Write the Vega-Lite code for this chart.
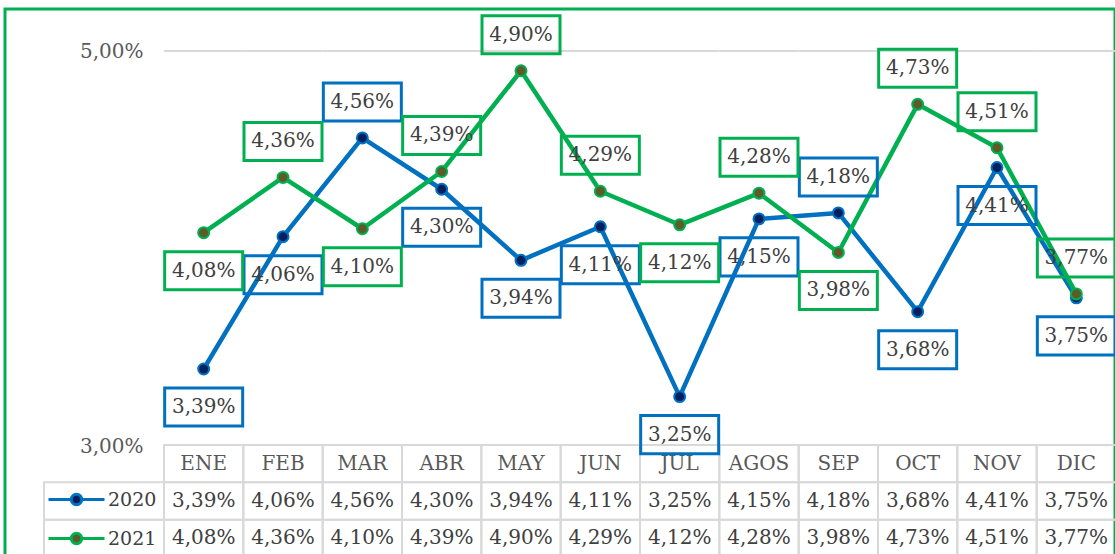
{
  "$schema": "https://vega.github.io/schema/vega-lite/v6.json",
  "width": 1110,
  "height": 545,
  "autosize": {"type": "none"},
  "padding": {"left": 5, "top": 9, "right": 0, "bottom": 0},
  "background": "white",
  "config": {
    "font": "DejaVu Serif",
    "view": {"stroke": "#00B050", "strokeWidth": 3, "strokeDash": [1655, 1110, 545]},
    "legend": {
      "symbolSize": 256, "symbolStrokeWidth": 3, "symbolOpacity": 1,
      "labelFont": "DejaVu Serif", "labelFontSize": 19, "labelColor": "#404040",
      "labelOffset": 22, "rowPadding": 16, "padding": 0
    }
  },
  "datasets": {
    "main": [
      {"month": "ENE", "series": "2020", "value": 0.0339, "pos": "below"},
      {"month": "FEB", "series": "2020", "value": 0.0406, "pos": "below"},
      {"month": "MAR", "series": "2020", "value": 0.0456, "pos": "above"},
      {"month": "ABR", "series": "2020", "value": 0.0430, "pos": "below"},
      {"month": "MAY", "series": "2020", "value": 0.0394, "pos": "below"},
      {"month": "JUN", "series": "2020", "value": 0.0411, "pos": "below"},
      {"month": "JUL", "series": "2020", "value": 0.0325, "pos": "below"},
      {"month": "AGOS", "series": "2020", "value": 0.0415, "pos": "below"},
      {"month": "SEP", "series": "2020", "value": 0.0418, "pos": "above"},
      {"month": "OCT", "series": "2020", "value": 0.0368, "pos": "below"},
      {"month": "NOV", "series": "2020", "value": 0.0441, "pos": "below"},
      {"month": "DIC", "series": "2020", "value": 0.0375, "pos": "below"},
      {"month": "ENE", "series": "2021", "value": 0.0408, "pos": "below"},
      {"month": "FEB", "series": "2021", "value": 0.0436, "pos": "above"},
      {"month": "MAR", "series": "2021", "value": 0.0410, "pos": "below"},
      {"month": "ABR", "series": "2021", "value": 0.0439, "pos": "above"},
      {"month": "MAY", "series": "2021", "value": 0.0490, "pos": "above"},
      {"month": "JUN", "series": "2021", "value": 0.0429, "pos": "above"},
      {"month": "JUL", "series": "2021", "value": 0.0412, "pos": "below"},
      {"month": "AGOS", "series": "2021", "value": 0.0428, "pos": "above"},
      {"month": "SEP", "series": "2021", "value": 0.0398, "pos": "below"},
      {"month": "OCT", "series": "2021", "value": 0.0473, "pos": "above"},
      {"month": "NOV", "series": "2021", "value": 0.0451, "pos": "above"},
      {"month": "DIC", "series": "2021", "value": 0.0377, "pos": "above"}
    ]
  },
  "data": {"name": "main"},
  "transform": [
    {"calculate": "replace(format(datum.value, '.2%'), '.', ',')", "as": "label"}
  ],
  "layer": [
    {
      "encoding": {
        "x": {
          "field": "month", "type": "nominal",
          "sort": ["ENE","FEB","MAR","ABR","MAY","JUN","JUL","AGOS","SEP","OCT","NOV","DIC"],
          "scale": {"type": "band", "domain": ["ENE","FEB","MAR","ABR","MAY","JUN","JUL","AGOS","SEP","OCT","NOV","DIC"], "range": [159, 1111], "paddingInner": 0, "paddingOuter": 0},
          "axis": null
        }
      },
      "layer": [
        {
          "transform": [{"filter": "datum.series == '2020'"}],
          "mark": {"type": "rect", "fill": "transparent", "stroke": "#D9D9D9", "strokeWidth": 2},
          "encoding": {
            "y": {"datum": "MES", "type": "nominal", "scale": {"type": "band", "domain": ["MES","2020","2021"], "range": [436, 548], "paddingInner": 0, "paddingOuter": 0}, "axis": null}
          }
        },
        {
          "mark": {"type": "rect", "fill": "transparent", "stroke": "#D9D9D9", "strokeWidth": 2},
          "encoding": {
            "y": {"field": "series", "type": "nominal", "scale": {"type": "band", "domain": ["MES","2020","2021"], "range": [436, 548], "paddingInner": 0, "paddingOuter": 0}, "axis": null}
          }
        },
        {
          "transform": [{"filter": "datum.series == '2020'"}],
          "mark": {"type": "text", "font": "DejaVu Serif", "fontSize": 20, "fill": "#595959"},
          "encoding": {
            "y": {"datum": "MES", "type": "nominal", "axis": null},
            "text": {"field": "month"}
          }
        },
        {
          "mark": {"type": "text", "font": "DejaVu Serif", "fontSize": 20, "fill": "#404040"},
          "encoding": {
            "y": {"field": "series", "type": "nominal", "axis": null},
            "text": {"field": "label"}
          }
        }
      ]
    },
    {
      "transform": [{"filter": "datum.month == 'ENE'"}],
      "mark": {"type": "rect", "fill": "transparent", "stroke": "#D9D9D9", "strokeWidth": 2},
      "encoding": {
        "x": {"datum": "key", "type": "nominal", "scale": {"type": "band", "domain": ["key"], "range": [39, 159], "paddingInner": 0, "paddingOuter": 0}, "axis": null},
        "y": {"field": "series", "type": "nominal", "scale": {"type": "band", "domain": ["MES","2020","2021"], "range": [436, 548], "paddingInner": 0, "paddingOuter": 0}, "axis": null}
      }
    },
    {
      "transform": [{"filter": "datum.series == '2020'"}],
      "mark": {"type": "rect", "fill": "transparent", "stroke": "#D9D9D9", "strokeWidth": 2},
      "encoding": {
        "x": {
          "field": "month", "type": "nominal",
          "scale": {"type": "band", "domain": ["ENE","FEB","MAR","ABR","MAY","JUN","JUL","AGOS","SEP","OCT","NOV","DIC"], "range": [159, 1111], "paddingInner": 0, "paddingOuter": 0},
          "axis": null
        },
        "y": {"datum": 0.05, "type": "quantitative", "scale": {"domain": [0.03, 0.05], "range": [437, 42], "zero": false, "nice": false}, "axis": null},
        "y2": {"datum": 0.05}
      }
    },
    {
      "encoding": {
        "x": {
          "field": "month", "type": "nominal",
          "sort": ["ENE","FEB","MAR","ABR","MAY","JUN","JUL","AGOS","SEP","OCT","NOV","DIC"],
          "scale": {"type": "band", "domain": ["ENE","FEB","MAR","ABR","MAY","JUN","JUL","AGOS","SEP","OCT","NOV","DIC"], "range": [159, 1111], "paddingInner": 0, "paddingOuter": 0},
          "axis": null
        },
        "y": {
          "field": "value", "type": "quantitative",
          "scale": {"domain": [0.03, 0.05], "range": [437, 42], "zero": false, "nice": false},
          "axis": {
            "values": [0.03, 0.05],
            "labelExpr": "replace(format(datum.value, '.2%'), '.', ',')",
            "domain": false, "ticks": false, "grid": false,
            "labelPadding": 21, "offset": -159,
            "labelFont": "DejaVu Serif", "labelFontSize": 20, "labelColor": "#595959",
            "title": null
          }
        },
        "stroke": {
          "field": "series", "type": "nominal",
          "scale": {"domain": ["2020","2021"], "range": ["#0070C0","#00B050"]},
          "legend": {
            "title": null, "orient": "none", "legendX": 62, "legendY": 481,
            "symbolType": "M-3.5,0L-0.65,0M0.65,0L3.5,0M-0.65,0A0.65,0.65,0,1,1,0.65,0A0.65,0.65,0,1,1,-0.65,0Z"
          }
        }
      },
      "layer": [
        {
          "mark": {"type": "line", "strokeWidth": 4.5, "strokeCap": "round", "strokeJoin": "round"}
        },
        {
          "mark": {"type": "point", "shape": "circle", "filled": true, "size": 120, "strokeWidth": 2, "opacity": 1},
          "encoding": {
            "fill": {
              "field": "series", "type": "nominal",
              "scale": {"domain": ["2020","2021"], "range": ["#002060","#5E5A2A"]},
              "legend": {
                "title": null, "orient": "none", "legendX": 62, "legendY": 481,
                "symbolType": "M-3.5,0L-0.65,0M0.65,0L3.5,0M-0.65,0A0.65,0.65,0,1,1,0.65,0A0.65,0.65,0,1,1,-0.65,0Z"
              }
            }
          }
        },
        {
          "transform": [{"filter": "datum.pos == 'above'"}],
          "mark": {"type": "point", "shape": "M-1,-1.41L1,-1.41L1,-0.436L-1,-0.436Z", "size": 6084, "filled": false, "fill": "transparent", "strokeWidth": 3, "opacity": 1}
        },
        {
          "transform": [{"filter": "datum.pos == 'below'"}],
          "mark": {"type": "point", "shape": "M-1,0.487L1,0.487L1,1.462L-1,1.462Z", "size": 6084, "filled": false, "fill": "transparent", "strokeWidth": 3, "opacity": 1}
        },
        {
          "transform": [{"filter": "datum.pos == 'above'"}],
          "mark": {"type": "text", "dy": -36, "font": "DejaVu Serif", "fontSize": 20, "fill": "#404040", "stroke": null},
          "encoding": {"text": {"field": "label"}, "stroke": {"value": null}}
        },
        {
          "transform": [{"filter": "datum.pos == 'below'"}],
          "mark": {"type": "text", "dy": 38, "font": "DejaVu Serif", "fontSize": 20, "fill": "#404040", "stroke": null},
          "encoding": {"text": {"field": "label"}, "stroke": {"value": null}}
        }
      ]
    }
  ],
  "resolve": {"scale": {"x": "independent", "y": "independent"}}
}
